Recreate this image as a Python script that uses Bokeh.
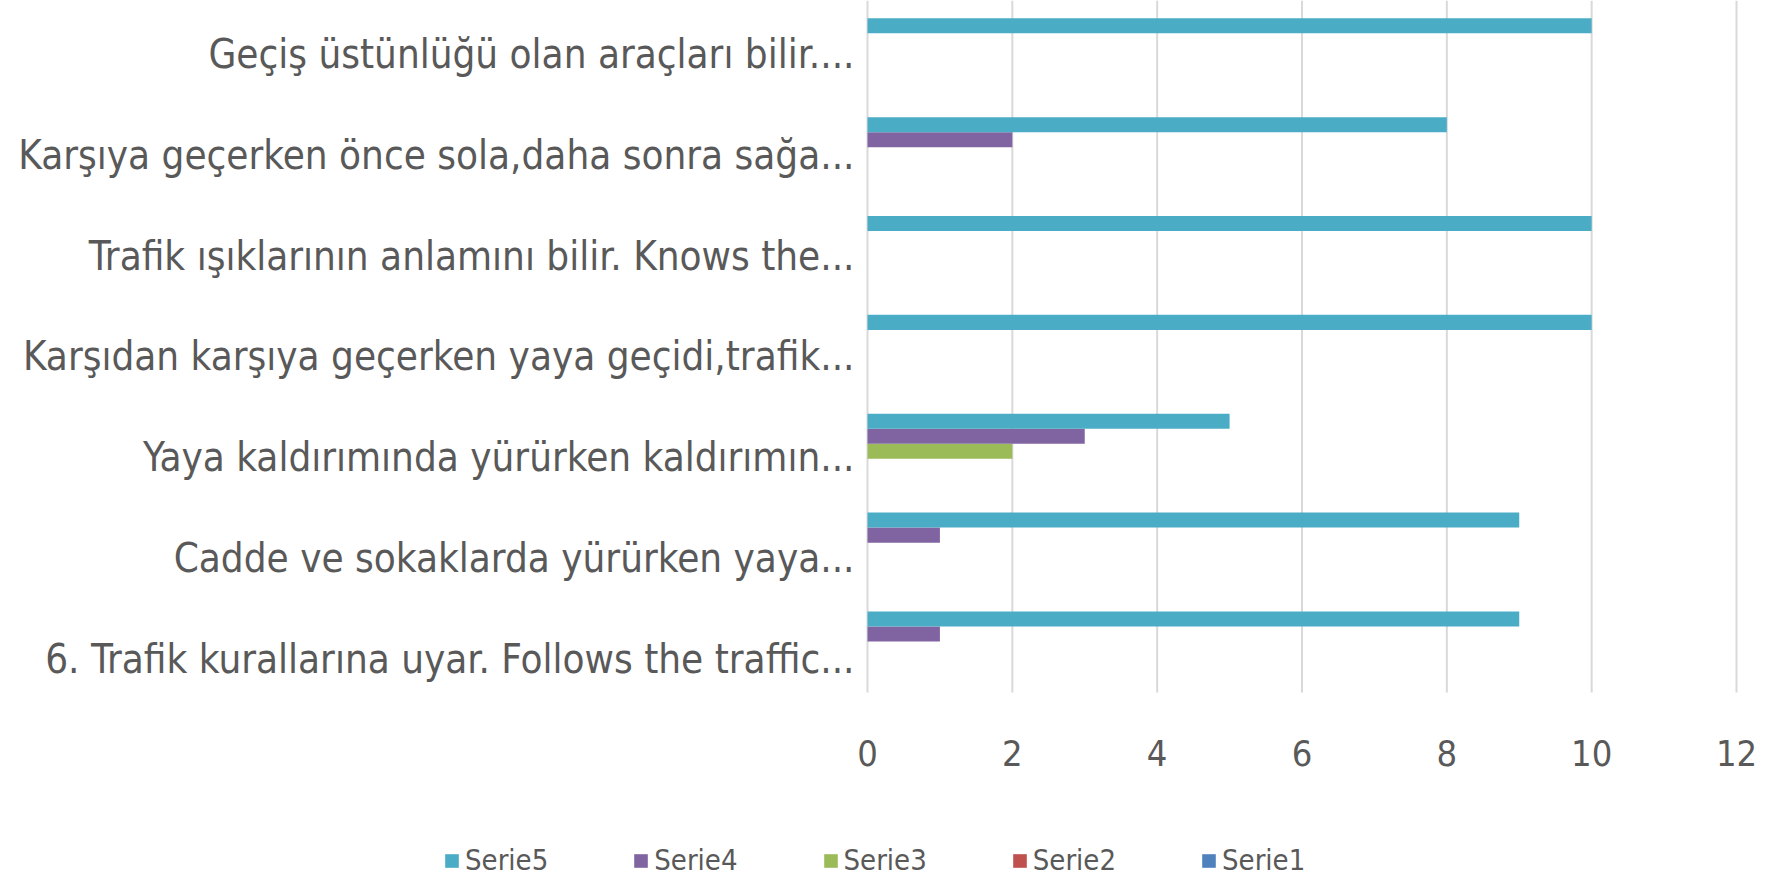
from bokeh.plotting import figure
from bokeh.models import ColumnDataSource, Legend, LegendItem, Range1d
from bokeh.core.properties import value
from bokeh.transform import dodge
from bokeh.embed import file_html
from bokeh.resources import INLINE

categories = [
    "6. Trafik kurallarına uyar. Follows the traffic...",
    "Cadde ve sokaklarda yürürken yaya...",
    "Yaya kaldırımında yürürken kaldırımın...",
    "Karşıdan karşıya geçerken yaya geçidi,trafik...",
    "Trafik ışıklarının anlamını bilir. Knows the...",
    "Karşıya geçerken önce sola,daha sonra sağa...",
    "Geçiş üstünlüğü olan araçları bilir....",
]
serie1 = [0, 0, 0, 0, 0, 0, 0]
serie2 = [0, 0, 0, 0, 0, 0, 0]
serie3 = [0, 0, 2, 0, 0, 0, 0]
serie4 = [1, 1, 3, 0, 0, 2, 0]
serie5 = [9, 9, 5, 10, 10, 8, 10]
x_ticks = [0, 2, 4, 6, 8, 10, 12]
x_tick_labels = ["0", "2", "4", "6", "8", "10", "12"]

series_names = ["Serie1", "Serie2", "Serie3", "Serie4", "Serie5"]
colors = ["#4F81BD", "#C0504D", "#9BBB59", "#8064A2", "#4BACC6"]

FONT = "'Liberation Sans Narrow', 'DejaVu Sans Condensed', 'Open Sans', sans-serif"
TXT = "#595959"

W, H = 1767, 871
# plotting area in figure pixels: value 0..12 spans x 867..1736, categories span y 0..692
X0_PX, X12_PX, YB_PX = 867, 1736, 692
n = len(categories)
ux = (X12_PX - X0_PX) / 12.0
uy = YB_PX / float(n)

slot = [k + 0.5 for k in range(n)]
src = ColumnDataSource(dict(cat=categories, slot=slot, Serie1=serie1, Serie2=serie2,
                            Serie3=serie3, Serie4=serie4, Serie5=serie5))

p = figure(width=W, height=H, output_backend="svg", toolbar_location=None,
           x_range=Range1d(-X0_PX / ux, 12 + (W - X12_PX) / ux),
           y_range=Range1d(-(H - YB_PX) / uy, n),
           x_axis_type=None, y_axis_type=None)
p.min_border = 0
p.min_border_left = 0
p.min_border_right = 0
p.min_border_top = 0
p.min_border_bottom = 0
p.outline_line_color = None
p.xgrid.visible = False
p.ygrid.visible = False

# vertical grid lines at the value ticks
p.segment(x0=x_ticks, y0=[0] * len(x_ticks), x1=x_ticks, y1=[n] * len(x_ticks),
          line_color="#d9d9d9", line_width=2)

bar_h = 0.152
renderers = []
for i, (name, col) in enumerate(zip(series_names, colors)):
    off = (i - 2) * bar_h - 0.06
    r = p.hbar(y=dodge("slot", off), left=0, right=name, height=bar_h,
               source=src, fill_color=col, line_color=None)
    renderers.append(r)

# value-axis tick labels
p.text(x=x_ticks, y=[-60 / uy] * len(x_ticks), text=x_tick_labels,
       text_font=value(FONT), text_font_size=value("36px"), text_color=TXT,
       text_align="center", text_baseline="middle")

# category labels
lab_y = [n / 2 + (s - n / 2) * 1.02 - 0.1 for s in slot]
p.text(x=[-13 / ux] * n, y=lab_y, text=categories,
       text_font=value(FONT), text_font_size=value("40px"), text_color=TXT,
       text_align="right", text_baseline="middle")

items = [LegendItem(label=nm, renderers=[r]) for nm, r in zip(series_names, renderers)][::-1]
legend = Legend(items=items, orientation="horizontal", location=(443, -6),
                label_text_font=FONT, label_text_font_size="29px", label_text_color=TXT,
                glyph_width=17, glyph_height=17, spacing=84, label_standoff=5,
                border_line_color=None, background_fill_alpha=0, padding=0, margin=0)
p.add_layout(legend, "center")

open("out.html", "w").write(file_html(p, INLINE))
